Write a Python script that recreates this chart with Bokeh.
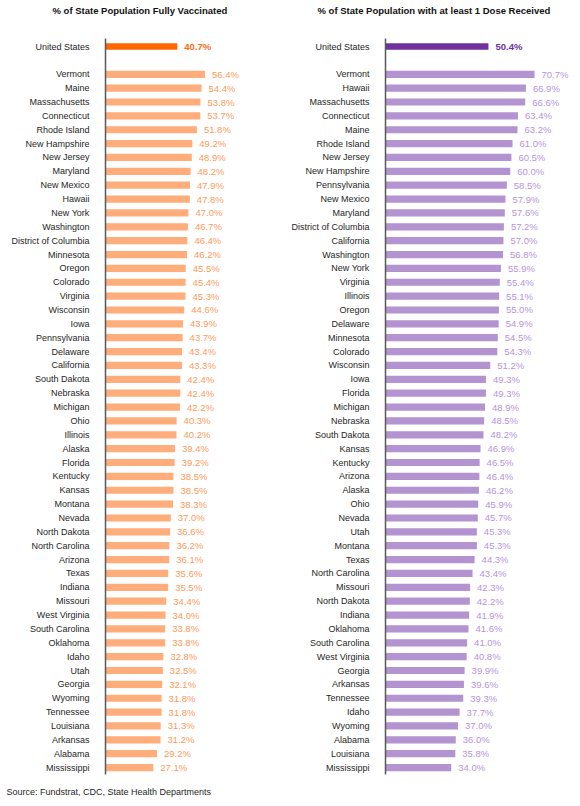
from bokeh.plotting import figure
from bokeh.models import ColumnDataSource, Range1d, FixedTicker, Title
from bokeh.layouts import row
from bokeh.embed import file_html
from bokeh.resources import INLINE
from bokeh.core.properties import value

# ---------------- data ----------------
us_label = "United States"
us_full = 40.7
us_dose = 50.4

states_full = ["Vermont", "Maine", "Massachusetts", "Connecticut", "Rhode Island",
               "New Hampshire", "New Jersey", "Maryland", "New Mexico", "Hawaii",
               "New York", "Washington", "District of Columbia", "Minnesota", "Oregon",
               "Colorado", "Virginia", "Wisconsin", "Iowa", "Pennsylvania", "Delaware",
               "California", "South Dakota", "Nebraska", "Michigan", "Ohio", "Illinois",
               "Alaska", "Florida", "Kentucky", "Kansas", "Montana", "Nevada",
               "North Dakota", "North Carolina", "Arizona", "Texas", "Indiana",
               "Missouri", "West Virginia", "South Carolina", "Oklahoma", "Idaho",
               "Utah", "Georgia", "Wyoming", "Tennessee", "Louisiana", "Arkansas",
               "Alabama", "Mississippi"]
values_full = [56.4, 54.4, 53.8, 53.7, 51.8, 49.2, 48.9, 48.2, 47.9, 47.8,
               47.0, 46.7, 46.4, 46.2, 45.5, 45.4, 45.3, 44.6, 43.9, 43.7, 43.4,
               43.3, 42.4, 42.4, 42.2, 40.3, 40.2, 39.4, 39.2, 38.5, 38.5, 38.3,
               37.0, 36.6, 36.2, 36.1, 35.6, 35.5, 34.4, 34.0, 33.8, 33.8, 32.8,
               32.5, 32.1, 31.8, 31.8, 31.3, 31.2, 29.2, 27.1]

states_dose = ["Vermont", "Hawaii", "Massachusetts", "Connecticut", "Maine",
               "Rhode Island", "New Jersey", "New Hampshire", "Pennsylvania",
               "New Mexico", "Maryland", "District of Columbia", "California",
               "Washington", "New York", "Virginia", "Illinois", "Oregon", "Delaware",
               "Minnesota", "Colorado", "Wisconsin", "Iowa", "Florida", "Michigan",
               "Nebraska", "South Dakota", "Kansas", "Kentucky", "Arizona", "Alaska",
               "Ohio", "Nevada", "Utah", "Montana", "Texas", "North Carolina",
               "Missouri", "North Dakota", "Indiana", "Oklahoma", "South Carolina",
               "West Virginia", "Georgia", "Arkansas", "Tennessee", "Idaho", "Wyoming",
               "Alabama", "Louisiana", "Mississippi"]
values_dose = [70.7, 66.9, 66.6, 63.4, 63.2, 61.0, 60.5, 60.0, 58.5, 57.9, 57.6,
               57.2, 57.0, 56.8, 55.9, 55.4, 55.1, 55.0, 54.9, 54.5, 54.3, 51.2,
               49.3, 49.3, 48.9, 48.5, 48.2, 46.9, 46.5, 46.4, 46.2, 45.9, 45.7,
               45.3, 45.3, 44.3, 43.4, 42.3, 42.2, 41.9, 41.6, 41.0, 40.8, 39.9,
               39.6, 39.3, 37.7, 37.0, 36.0, 35.8, 34.0]

title_full = "% of State Population Fully Vaccinated"
title_dose = "% of State Population with at least 1 Dose Received"
source_note = "Source: Fundstrat, CDC, State Health Departments"

FONT = "Liberation Sans"


def make_panel(title, us_val, names, vals, width, border_left, x_rng, us_color,
               bar_color, lab_color, us_lab_color, title_offset):
    n = len(names)
    ys = list(range(2, 2 + n))
    st_src = ColumnDataSource(dict(y=ys, v=vals, lab=[f"{v:.1f}%" for v in vals]))
    us_src = ColumnDataSource(dict(y=[0], v=[us_val], lab=[f"{us_val:.1f}%"]))

    p = figure(width=width, height=806, x_range=Range1d(*x_rng),
               y_range=Range1d(n + 1.5, -0.58), output_backend="svg",
               toolbar_location=None, x_axis_location=None, title=None,
               min_border_left=border_left, min_border_right=0,
               min_border_top=38, min_border_bottom=30)
    p.hbar(y="y", left=0, right="v", height=0.52, source=st_src,
           fill_color=bar_color, line_color=None)
    p.hbar(y="y", left=0, right="v", height=0.48, source=us_src,
           fill_color=us_color, line_color=None)
    p.text(x="v", y="y", text="lab", source=st_src, x_offset=7,
           text_baseline="middle", text_align="left", text_font_size="9.5px",
           text_color=lab_color, text_font=value(FONT))
    p.text(x="v", y="y", text="lab", source=us_src, x_offset=7,
           text_baseline="middle", text_align="left", text_font_size="9.5px",
           text_font_style="bold", text_color=us_lab_color, text_font=value(FONT))

    ax = p.yaxis[0]
    ax.ticker = FixedTicker(ticks=[0] + ys)
    ax.major_label_overrides = {0: us_label, **{y: s for y, s in zip(ys, names)}}
    ax.major_tick_line_color = None
    ax.minor_tick_line_color = None
    ax.major_label_standoff = 10
    ax.axis_line_color = "#595959"
    ax.axis_line_width = 1.5
    ax.major_label_text_font_size = "9px"
    ax.major_label_text_color = "#262626"
    ax.major_label_text_font = FONT

    p.xgrid.visible = False
    p.ygrid.visible = False
    p.outline_line_color = None
    p.background_fill_color = "white"

    # spacing between chart area and title (closest to the frame)
    p.add_layout(Title(text=" ", text_font_size="1px", standoff=18), "above")
    p.add_layout(Title(text=title, align="left", offset=title_offset,
                       text_font=FONT, text_font_size="9.5px",
                       text_font_style="bold", text_color="#111111", standoff=4),
                 "above")
    return p


p1 = make_panel(title_full, us_full, states_full, values_full, 288, 105, (0, 103.7),
                "#FF6600", "#FFAD7A", "#FF9A5A", "#FF6A13", -53)
p2 = make_panel(title_dose, us_dose, states_dose, values_dose, 292, 97, (5.05, 90.95),
                "#7030A0", "#B393D0", "#B794DD", "#7030A0", -68)

note = Title(text=source_note, align="left", offset=-99, text_font=FONT,
             text_font_size="9px", text_font_style="normal", text_color="#262626",
             standoff=20)
p1.add_layout(note, "below")

layout = row(p1, p2, spacing=0)
open("out.html", "w").write(file_html(layout, INLINE))
